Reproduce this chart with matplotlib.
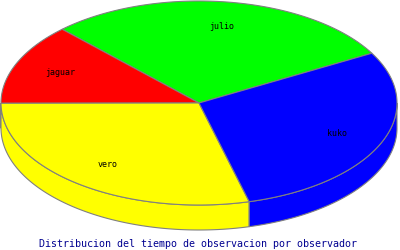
import numpy as np
import matplotlib
matplotlib.use("Agg")
import matplotlib.pyplot as plt
from matplotlib.patches import Polygon

names = ["julio", "jaguar", "vero", "kuko"]
hours = [9, 4, 9, 9]
colors = ["#00ff00", "#ff0000", "#ffff00", "#0000ff"]
title = "Distribucion del tiempo de observacion por observador"

# pie layout in pixel coordinates
cx, cy, rx, ry, depth = 199, 103, 198, 102, 25
start = 29.2
label_r = 0.76
edge = "#808080"


def rim(t0, t1, dy=0.0):
    t = np.radians(np.linspace(t0, t1, max(2, int(abs(t1 - t0) * 2))))
    return np.column_stack([cx + rx * np.cos(t), cy - ry * np.sin(t) + dy])


fig = plt.figure(figsize=(4, 2.5), dpi=100)
ax = fig.add_axes([0, 0, 1, 1])
ax.set_xlim(0, 400)
ax.set_ylim(250, 0)
ax.axis("off")

sweep = np.array(hours, dtype=float) / sum(hours) * 360
bounds = start + np.concatenate([[0], np.cumsum(sweep)])

# side walls (front half only)
for i, col in enumerate(colors):
    t0, t1 = bounds[i], bounds[i + 1]
    for a, b in [(180, 360), (540, 720)]:
        lo, hi = max(t0, a), min(t1, b)
        if hi > lo:
            pts = np.vstack([rim(lo, hi), rim(hi, lo, depth)])
            ax.add_patch(Polygon(pts, closed=True, facecolor=col,
                                 edgecolor=edge, linewidth=0.8))

# top surface
for i, col in enumerate(colors):
    t0, t1 = bounds[i], bounds[i + 1]
    pts = np.vstack([[cx, cy], rim(t0, t1)])
    ax.add_patch(Polygon(pts, closed=True, facecolor=col,
                         edgecolor=edge, linewidth=0.8))

# slice labels
for i, name in enumerate(names):
    mid = np.radians((bounds[i] + bounds[i + 1]) / 2)
    ax.text(cx + label_r * rx * np.cos(mid), cy - label_r * ry * np.sin(mid),
            name, ha="center", va="center", fontsize=6,
            family="DejaVu Sans Mono", color="black")

ax.text(198, 244, title, ha="center", va="center", fontsize=7.2,
        family="DejaVu Sans Mono", color="#000090")

fig.savefig("out.png", dpi=100)
